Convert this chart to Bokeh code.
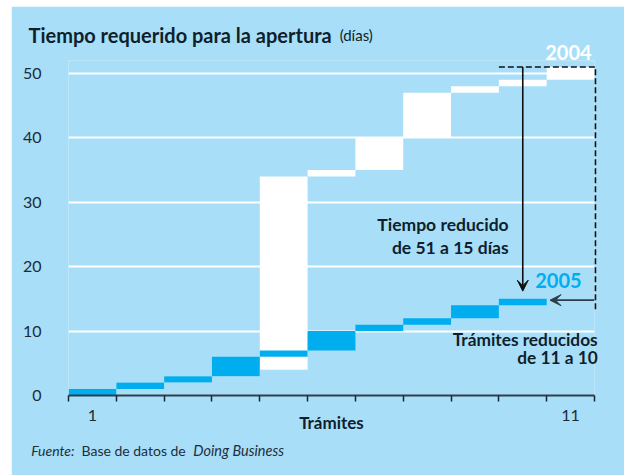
import numpy as np
from bokeh.plotting import figure
from bokeh.models import ColumnDataSource, Range1d, FixedTicker, Arrow, VeeHead
from bokeh.core.properties import value
from bokeh.embed import file_html
from bokeh.resources import INLINE

# ---- data ----
steps_2004 = [1, 2, 3, 4, 5, 6, 7, 8, 9, 10, 11]
days_2004 = [1, 1, 1, 1, 30, 1, 5, 7, 1, 1, 2]          # days per procedure, 2004 (total 51)
steps_2005 = [1, 2, 3, 4, 5, 6, 7, 8, 9, 10]
days_2005 = [1, 1, 1, 3, 1, 3, 1, 1, 2, 1]              # days per procedure, 2005 (total 15)
y_ticks = [0, 10, 20, 30, 40, 50]
x_tick_labels = {1: "1", 11: "11"}

BG = "#a8def8"
CYAN = "#00aeef"
DARK = "#0f1f2c"
FONT = "Lato"

end04 = np.cumsum(days_2004)
start04 = end04 - np.array(days_2004)
end05 = np.cumsum(days_2005)
start05 = end05 - np.array(days_2005)

src04 = ColumnDataSource(dict(left=np.array(steps_2004) - 0.5, right=np.array(steps_2004) + 0.5,
                              bottom=start04, top=end04))
src05 = ColumnDataSource(dict(left=np.array(steps_2005) - 0.5, right=np.array(steps_2005) + 0.5,
                              bottom=start05, top=end05))

n = len(steps_2004)
p = figure(width=613, height=469, x_range=Range1d(0.5, n + 0.5), y_range=Range1d(0, 52),
           output_backend="svg", toolbar_location=None,
           min_border_left=57, min_border_right=30, min_border_top=54, min_border_bottom=80,
           background_fill_color=BG, border_fill_color=BG, outline_line_color=None,
           styles={"margin-left": "11px", "margin-top": "6px"})

# grid
p.xgrid.visible = False
p.ygrid.ticker = FixedTicker(ticks=y_ticks[1:])
p.ygrid.grid_line_color = "white"
p.ygrid.grid_line_width = 2

# y axis
ya = p.yaxis[0]
ya.ticker = FixedTicker(ticks=y_ticks)
ya.axis_line_color = None
ya.major_tick_line_color = None
ya.minor_tick_line_color = None
ya.major_label_standoff = 21
ya.major_label_text_font = FONT
ya.major_label_text_font_size = "16px"
ya.major_label_text_color = "#1d2b36"

# x axis
xa = p.xaxis[0]
xa.ticker = FixedTicker(ticks=list(x_tick_labels.keys()),
                        minor_ticks=[s - 0.5 for s in steps_2004] + [n + 0.5])
xa.major_label_overrides = x_tick_labels
xa.major_tick_line_color = None
xa.major_tick_in = 0
xa.major_tick_out = 0
xa.minor_tick_line_color = "#1a2733"
xa.minor_tick_line_width = 1.5
xa.minor_tick_in = 0
xa.minor_tick_out = 6
xa.axis_line_color = "#2c3e4c"
xa.axis_line_width = 2
xa.major_label_standoff = 8
xa.major_label_text_font = FONT
xa.major_label_text_font_size = "16px"
xa.major_label_text_color = "#1d2b36"
xa.axis_label = "Trámites"
xa.axis_label_text_font = FONT
xa.axis_label_text_font_style = "bold"
xa.axis_label_text_font_size = "17px"
xa.axis_label_text_color = DARK
xa.axis_label_standoff = -12

# bars
p.quad(left="left", right="right", bottom="bottom", top="top", source=src04,
       fill_color="white", line_color=None)
p.quad(left="left", right="right", bottom="bottom", top="top", source=src05,
       fill_color=CYAN, line_color=None)

total04 = end04[-1]
total05 = end05[-1]

# dashed bracket
p.line(x=[9.5, n + 0.52, n + 0.52], y=[total04, total04, 13], line_dash="6 3",
       line_color="#111111", line_width=1.6, level="overlay")

# arrows
p.add_layout(Arrow(x_start=10, y_start=total04, x_end=10, y_end=total05 + 1.2,
                   line_color="#111111", line_width=1.6,
                   end=VeeHead(size=11, fill_color="#111111", line_color="#111111")))
p.add_layout(Arrow(x_start=n + 0.5, y_start=total05 - 0.2, x_end=10.57, y_end=total05 - 0.2,
                   line_color="#2b3d4a", line_width=1.6,
                   end=VeeHead(size=11, fill_color="#2b3d4a", line_color="#2b3d4a")))

DY = 0.8  # baseline correction for text placement


def txt(x, y, s, size, color=DARK, style="bold", align="left"):
    p.text(x=[x], y=[y + DY], text=[s], text_font=value(FONT), text_font_size=value(size),
           text_font_style=style, text_color=color, text_align=align,
           text_baseline="alphabetic", level="overlay")


txt(11.44, 52.48, "2004", "20px", color="white", align="right")
txt(11.23, 16.98, "2005", "20px", color=CYAN, align="right")
txt(9.705, 25.72, "Tiempo reducido", "17.5px", align="right")
txt(9.705, 22.25, "de 51 a 15 días", "17.5px", align="right")
txt(11.567, 7.89, "Trámites reducidos", "17.3px", align="right")
txt(11.567, 5.04, "de 11 a 10", "17.3px", align="right")

# title
txt(-0.337, 55.18, "Tiempo requerido para la apertura", "20px")
txt(6.17, 55.18, "(días)", "15px", style="normal")

# source
txt(-0.28, -9.32, "Fuente:", "14px", color="#1e2e3a", style="italic")
txt(0.772, -9.32, "Base de datos de", "14px", color="#1e2e3a", style="normal")
txt(3.109, -9.32, "Doing Business", "14.5px", color="#1e2e3a", style="italic")

open("out.html", "w").write(file_html(p, INLINE))
